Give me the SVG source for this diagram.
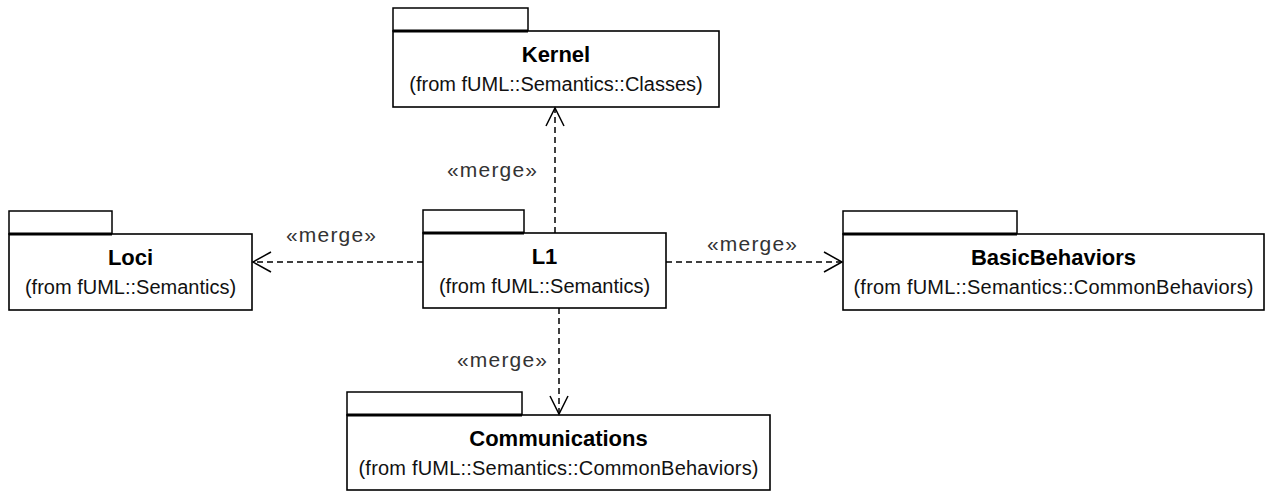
<svg xmlns="http://www.w3.org/2000/svg" width="1267" height="493" viewBox="0 0 1267 493">
<style>
.tab{fill:#fff;stroke:#000;stroke-width:1.5}
.body{fill:#fff;stroke:#000;stroke-width:1.6}
.sep{stroke:#000;stroke-width:3}
.title{font-family:"Liberation Sans",Arial,sans-serif;font-weight:bold;font-size:22px;fill:#000;text-anchor:middle}
.sub{font-family:"Liberation Sans",Arial,sans-serif;font-size:20px;fill:#111;text-anchor:middle}
.lbl{font-family:"Liberation Sans",Arial,sans-serif;font-size:21px;fill:#333;text-anchor:middle}
.dep{fill:none;stroke:#000;stroke-width:1.5;stroke-dasharray:6 4}
.head{fill:none;stroke:#000;stroke-width:1.5}
</style>
<rect width="1267" height="493" fill="#fff"/>
<g id="Kernel">
<rect class="tab" x="393" y="8" width="135" height="23"/>
<rect class="body" x="393" y="31" width="326" height="76"/>
<line class="sep" x1="393" y1="31" x2="528" y2="31"/>
<text class="title" x="556" y="62">Kernel</text>
<text class="sub" x="556" y="91">(from fUML::Semantics::Classes)</text>
</g>
<g id="Loci">
<rect class="tab" x="9" y="211" width="103" height="23"/>
<rect class="body" x="9" y="234" width="243" height="76"/>
<line class="sep" x1="9" y1="234" x2="112" y2="234"/>
<text class="title" x="130.5" y="265">Loci</text>
<text class="sub" x="130.5" y="294">(from fUML::Semantics)</text>
</g>
<g id="L1">
<rect class="tab" x="423" y="210" width="101" height="23"/>
<rect class="body" x="423" y="233" width="243" height="75"/>
<line class="sep" x1="423" y1="233" x2="524" y2="233"/>
<text class="title" x="544.5" y="264">L1</text>
<text class="sub" x="544.5" y="293">(from fUML::Semantics)</text>
</g>
<g id="BasicBehaviors">
<rect class="tab" x="843" y="211" width="174" height="23"/>
<rect class="body" x="843" y="234" width="421" height="76"/>
<line class="sep" x1="843" y1="234" x2="1017" y2="234"/>
<text class="title" x="1053.5" y="265">BasicBehaviors</text>
<text class="sub" x="1053.5" y="294" textLength="400">(from fUML::Semantics::CommonBehaviors)</text>
</g>
<g id="Communications">
<rect class="tab" x="347" y="392" width="175" height="23"/>
<rect class="body" x="347" y="415" width="423" height="75"/>
<line class="sep" x1="347" y1="415" x2="522" y2="415"/>
<text class="title" x="558.5" y="446">Communications</text>
<text class="sub" x="558.5" y="475" textLength="400">(from fUML::Semantics::CommonBehaviors)</text>
</g>
<g id="connectors">
<line class="dep" x1="555" y1="233" x2="555" y2="108"/>
<polyline class="head" points="546,126 555,108 564,126"/>
<text class="lbl" x="492" y="177" textLength="90">«merge»</text>
<line class="dep" x1="423" y1="262" x2="253" y2="262"/>
<polyline class="head" points="271,252 253,262 271,272"/>
<text class="lbl" x="331" y="242" textLength="90">«merge»</text>
<line class="dep" x1="666" y1="262" x2="842" y2="262"/>
<polyline class="head" points="824,252 842,262 824,272"/>
<text class="lbl" x="752" y="251" textLength="90">«merge»</text>
<line class="dep" x1="559" y1="308" x2="559" y2="414"/>
<polyline class="head" points="550,396 559,414 568,396"/>
<text class="lbl" x="502" y="367" textLength="90">«merge»</text>
</g>
</svg>
